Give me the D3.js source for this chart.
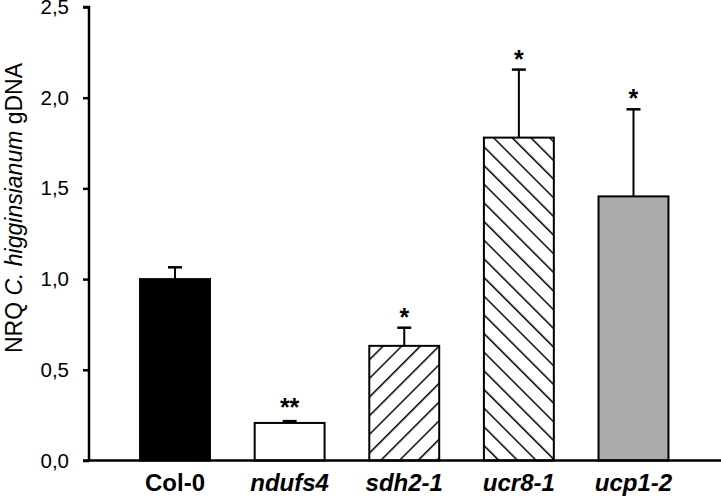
<!DOCTYPE html>
<html><head><meta charset="utf-8">
<script src="https://cdn.jsdelivr.net/npm/d3@7"></script>
<style>body{margin:0;background:#fff}</style>
</head><body>
<svg id="c" width="721" height="500"></svg>
<script>
const categories = ["Col-0", "ndufs4", "sdh2-1", "ucr8-1", "ucp1-2"];
const italicLabel = [false, true, true, true, true];
const values = [1.0, 0.207, 0.632, 1.78, 1.456];
const errors = [0.065, 0.01, 0.10, 0.375, 0.48];
const signif = ["", "**", "*", "*", "*"];
const fills = ["black", "white", "url(#hatchFwd)", "url(#hatchBack)", "#aaaaaa"];
const yTicks = [0, 0.5, 1.0, 1.5, 2.0, 2.5];

const FONT = "Liberation Sans, Arial, sans-serif";
const svg = d3.select("#c");
const x0 = 89, yBottom = 460.5, yTop = 7;
const y = d3.scaleLinear().domain([0, 2.5]).range([yBottom, yTop]);
const x = d3.scaleBand().domain(categories).range([117.7, 690.8]).paddingInner(0.39).paddingOuter(0.195);

const defs = svg.append("defs");
function hatch(id, angle) {
  const p = defs.append("pattern").attr("id", id).attr("patternUnits", "userSpaceOnUse")
    .attr("width", 13.2).attr("height", 13.2).attr("patternTransform", `rotate(${angle})`);
  p.append("rect").attr("width", 13.2).attr("height", 13.2).attr("fill", "white");
  p.append("line").attr("x1", 0).attr("y1", 0).attr("x2", 0).attr("y2", 13.2)
    .attr("stroke", "black").attr("stroke-width", 3);
}
hatch("hatchFwd", 45);
hatch("hatchBack", -45);

const g = svg.append("g");
// error bars
categories.forEach((c, i) => {
  const cx = x(c) + x.bandwidth() / 2;
  const top = y(values[i] + errors[i]);
  g.append("line").attr("x1", cx).attr("x2", cx).attr("y1", y(values[i])).attr("y2", top)
    .attr("stroke", "black").attr("stroke-width", 2);
  g.append("line").attr("x1", cx - 7).attr("x2", cx + 7).attr("y1", top).attr("y2", top)
    .attr("stroke", "black").attr("stroke-width", 2.5);
  if (signif[i]) {
    g.append("text").attr("x", cx).attr("y", top - (signif[i] === "**" ? 5 : 2))
      .attr("text-anchor", "middle").attr("font-family", FONT)
      .attr("font-size", 25).attr("font-weight", "bold")
      .text(signif[i]);
  }
});
// bars
g.selectAll("rect.bar").data(categories).enter().append("rect").attr("class", "bar")
  .attr("x", d => x(d)).attr("width", x.bandwidth())
  .attr("y", (d, i) => y(values[i])).attr("height", (d, i) => y(0) - y(values[i]))
  .attr("fill", (d, i) => fills[i]).attr("stroke", "black").attr("stroke-width", 2);

// y axis
const yAxis = d3.axisLeft(y).tickValues(yTicks).tickSize(6).tickPadding(14)
  .tickFormat(d => d3.format(".1f")(d).replace(".", ","));
const ya = svg.append("g").attr("transform", `translate(${x0},0)`).call(yAxis);
ya.select(".domain").attr("stroke-width", 2.5).attr("d", `M-6,${yTop}H0V${yBottom}`);
ya.selectAll(".tick line").attr("stroke-width", 2.5);
ya.selectAll("text").attr("font-family", FONT).attr("font-size", 20.5).attr("fill", "black");

// x axis
const xAxis = d3.axisBottom(x).tickSize(0).tickPadding(13);
const xa = svg.append("g").attr("transform", `translate(0,${yBottom})`).call(xAxis);
xa.select(".domain").attr("stroke-width", 2.5).attr("d", `M${x0 - 6},0H721`);
xa.selectAll("text").attr("font-family", FONT).attr("font-size", 24)
  .attr("font-weight", "bold").attr("fill", "black")
  .attr("font-style", (d, i) => italicLabel[i] ? "italic" : "normal");

// y title
const t = svg.append("text").attr("transform", `translate(22,208) rotate(-90)`)
  .attr("text-anchor", "middle").attr("font-family", FONT).attr("font-size", 23);
t.append("tspan").text("NRQ ");
t.append("tspan").attr("font-style", "italic").text("C. higginsianum");
t.append("tspan").text(" gDNA");
</script>
</body></html>
